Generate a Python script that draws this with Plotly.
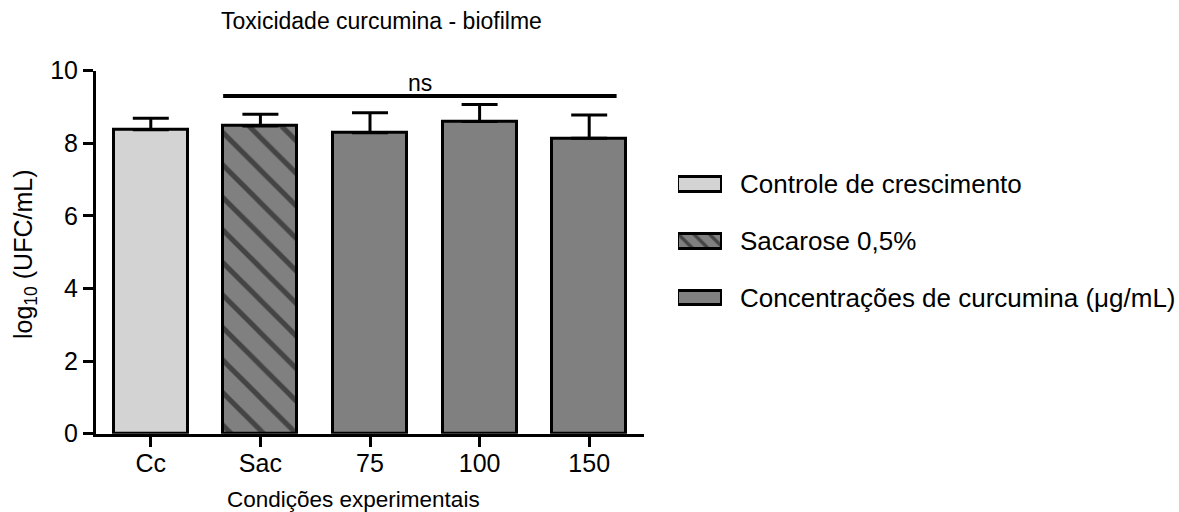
import plotly.graph_objects as go

# Biofilm toxicity of curcumin: mean log10(CFU/mL) with SD (upper whisker only)
categories = ["Cc", "Sac", "75", "100", "150"]
means = [8.37, 8.48, 8.29, 8.60, 8.14]
sd = [0.32, 0.32, 0.55, 0.47, 0.64]
bar_colors = ["#d3d3d3", "#808080", "#808080", "#808080", "#808080"]
bar_patterns = ["", "\\", "", "", ""]

y_ticks = [0, 2, 4, 6, 8, 10]

# Legend entries (swatch fill, hatch, label)
legend_labels = [
    "Controle de crescimento",
    "Sacarose 0,5%",
    "Concentrações de curcumina (μg/mL)",
]
legend_colors = ["#d3d3d3", "#808080", "#808080"]
legend_patterns = ["", "\\", ""]

# "ns" comparison bracket (x in category index units, y in data units)
ns_x = [0.66, 4.25]
ns_y = 9.3

W, H = 1179, 512
FONT = "Arial, 'Liberation Sans', sans-serif"


def fx(px):
    return px / W


def fy(py):
    return 1 - py / H


idx = list(range(len(categories)))

fig = go.Figure()

fig.add_trace(go.Bar(
    x=idx, y=means, width=0.675,
    marker=dict(
        color=bar_colors,
        line=dict(color="black", width=3),
        pattern=dict(shape=bar_patterns, fgcolor="black", fgopacity=1,
                     size=23, solidity=0.22, fillmode="overlay"),
    ),
    error_y=dict(type="data", array=sd, arrayminus=[0] * len(sd), symmetric=False,
                 color="black", thickness=3, width=18),
    showlegend=False, hoverinfo="skip",
))

fig.add_trace(go.Scatter(
    x=ns_x, y=[ns_y, ns_y], mode="lines",
    line=dict(color="black", width=4),
    showlegend=False, hoverinfo="skip",
))

# Legend swatches on their own small axes
fig.add_trace(go.Bar(
    x=[1] * len(legend_labels), y=list(range(len(legend_labels))),
    orientation="h", width=0.26, xaxis="x2", yaxis="y2",
    marker=dict(
        color=legend_colors,
        line=dict(color="black", width=3),
        pattern=dict(shape=legend_patterns, fgcolor="black", fgopacity=1,
                     size=11, solidity=0.3, fillmode="overlay"),
    ),
    showlegend=False, hoverinfo="skip",
))

annotations = [
    dict(text="Toxicidade curcumina - biofilme", x=fx(381), y=fy(21),
         xref="paper", yref="paper", showarrow=False, xanchor="center", yanchor="middle",
         font=dict(size=23, color="black", family=FONT)),
    dict(text="Condições experimentais", x=fx(353), y=fy(499),
         xref="paper", yref="paper", showarrow=False, xanchor="center", yanchor="middle",
         font=dict(size=22.5, color="black", family=FONT)),
    dict(text="log<sub>10</sub> (UFC/mL)", x=fx(25), y=fy(254), textangle=-90,
         xref="paper", yref="paper", showarrow=False, xanchor="center", yanchor="middle",
         font=dict(size=25, color="black", family=FONT)),
    dict(text="ns", x=sum(ns_x) / 2, y=ns_y, xref="x", yref="y",
         showarrow=False, xanchor="center", yanchor="bottom", yshift=-2,
         font=dict(size=23, color="black", family=FONT)),
]
for i, label in enumerate(legend_labels):
    annotations.append(dict(
        text=label, x=fx(738), y=i, xref="paper", yref="y2",
        showarrow=False, xanchor="left", yanchor="middle",
        font=dict(size=26, color="black", family=FONT)))

fig.update_layout(
    width=W, height=H,
    margin=dict(l=0, r=0, t=0, b=0),
    paper_bgcolor="white", plot_bgcolor="white",
    font=dict(family=FONT, color="black"),
    bargap=0,
    xaxis=dict(
        domain=[fx(96), fx(644)], range=[-0.5, 4.5],
        tickvals=idx, ticktext=categories,
        ticks="outside", ticklen=10, tickwidth=3, tickcolor="black",
        ticklabelstandoff=-5,
        showline=True, linewidth=3, linecolor="black",
        showgrid=False, zeroline=False, automargin=False,
        tickfont=dict(size=25, color="black", family=FONT),
        fixedrange=True,
    ),
    yaxis=dict(
        domain=[fy(433.7), fy(70.7)], range=[0, 10],
        tickvals=y_ticks,
        ticks="outside", ticklen=10, tickwidth=3, tickcolor="black",
        showline=True, linewidth=3, linecolor="black",
        showgrid=False, zeroline=False, automargin=False,
        tickfont=dict(size=25, color="black", family=FONT),
        fixedrange=True,
    ),
    xaxis2=dict(domain=[fx(678), fx(722)], range=[0, 1], visible=False,
                anchor="y2", fixedrange=True),
    yaxis2=dict(domain=[fy(326.4), fy(156.0)], range=[2.5, -0.5], visible=False,
                anchor="x2", fixedrange=True),
    annotations=annotations,
)

fig.write_html("out.html")
